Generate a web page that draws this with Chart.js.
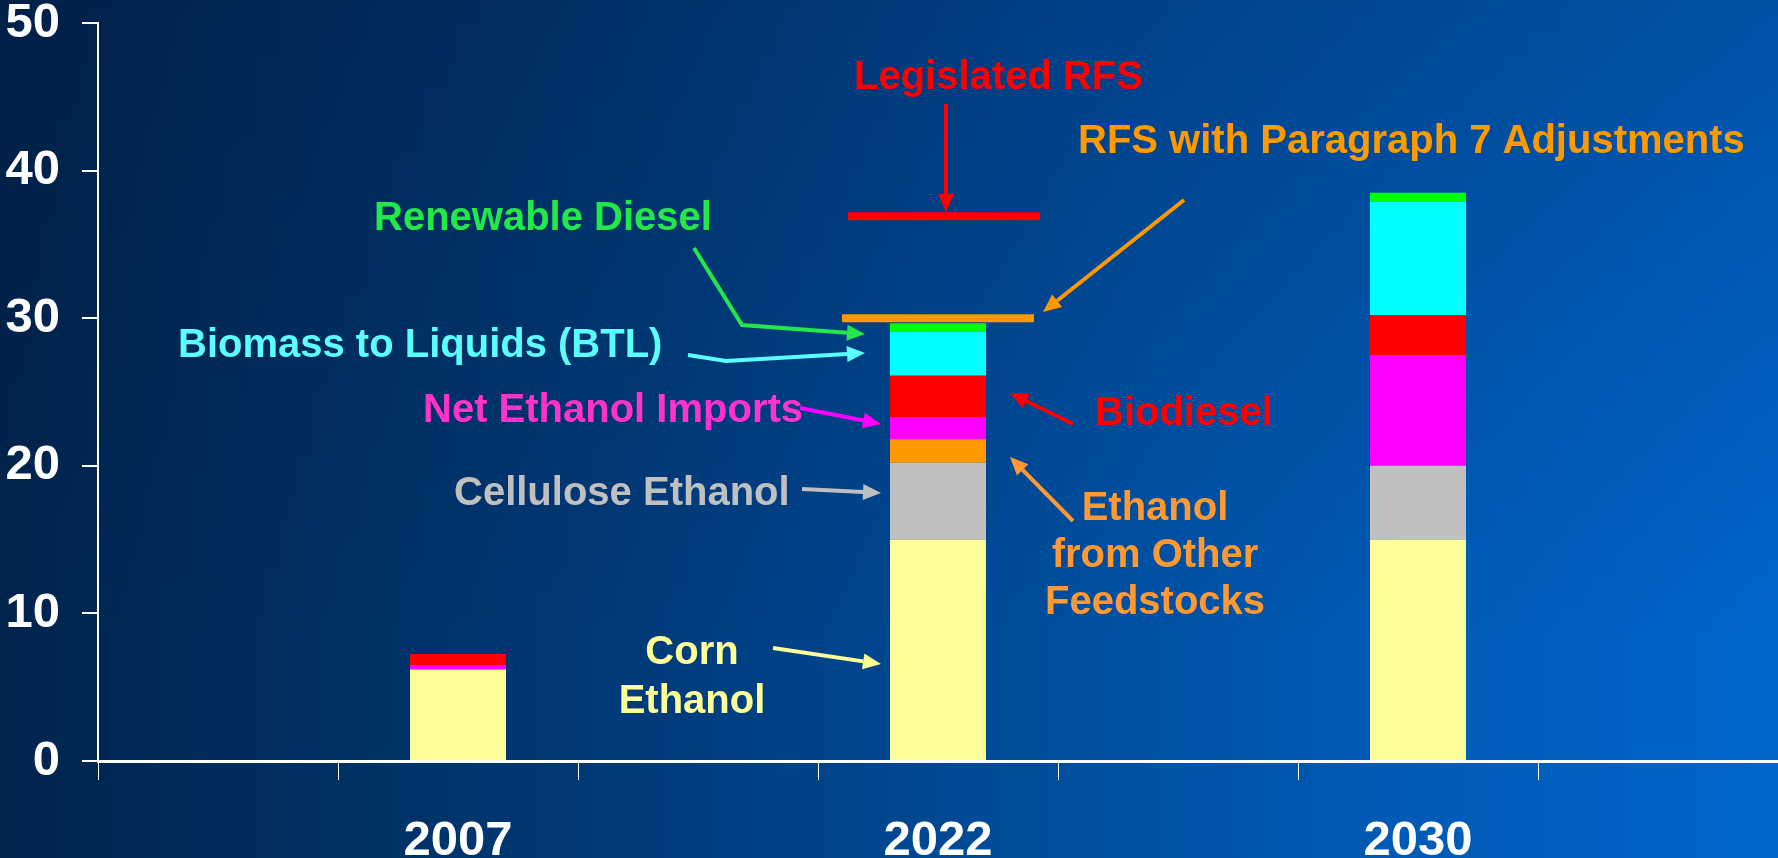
<!DOCTYPE html>
<html>
<head>
<meta charset="utf-8">
<script src="https://cdn.jsdelivr.net/npm/chart.js@4.4.0/dist/chart.umd.min.js"></script>
<style>
  html, body { margin: 0; padding: 0; }
  body {
    width: 1778px; height: 858px; overflow: hidden;
    background:
      linear-gradient(to bottom, rgba(0, 20, 55, 0.25) 0%, rgba(0, 20, 55, 0) 75%),
      linear-gradient(to right, #00244c 0%, #003a78 35%, #0052a6 65%, #0066cc 100%);
  }
  #wrap { position: relative; width: 1778px; height: 858px; }
</style>
</head>
<body>
<div id="wrap"><canvas id="chart"></canvas></div>
<script>
// categories (empty slots keep the bars spaced like the original)
var labels = ['', '2007', '', '2022', '', '2030', ''];

// billion gallons, stacked from the bottom
var cornEthanol      = [null, 6.2,  null, 15,   null, 15,  null];
var celluloseEthanol = [null, 0,    null, 5.2,  null, 5.0, null];
var otherFeedstocks  = [null, 0,    null, 1.6,  null, 0,   null];
var netImports       = [null, 0.3,  null, 1.5,  null, 7.5, null];
var biodiesel        = [null, 0.75, null, 2.8,  null, 2.7, null];
var btl              = [null, 0,    null, 3.0,  null, 7.7, null];
var renewableDiesel  = [null, 0,    null, 0.55, null, 0.6, null];

// RFS targets for 2022
var rfsLegislated = 36.9;
var rfsAdjusted = 30;

var FONT = '"Liberation Sans", Arial, sans-serif';

function arrow(ctx, pts, color) {
  var n = pts.length;
  var tx = pts[n - 1][0], ty = pts[n - 1][1];
  var px = pts[n - 2][0], py = pts[n - 2][1];
  var ang = Math.atan2(ty - py, tx - px);
  var len = 18, w = 8;
  var bx = tx - Math.cos(ang) * len, by = ty - Math.sin(ang) * len;
  ctx.strokeStyle = color;
  ctx.fillStyle = color;
  ctx.lineWidth = 4;
  ctx.lineJoin = 'miter';
  ctx.beginPath();
  ctx.moveTo(pts[0][0], pts[0][1]);
  for (var i = 1; i < n - 1; i++) ctx.lineTo(pts[i][0], pts[i][1]);
  ctx.lineTo(bx, by);
  ctx.stroke();
  ctx.beginPath();
  ctx.moveTo(tx, ty);
  ctx.lineTo(bx + Math.sin(ang) * w, by - Math.cos(ang) * w);
  ctx.lineTo(bx - Math.sin(ang) * w, by + Math.cos(ang) * w);
  ctx.closePath();
  ctx.fill();
}

function text(ctx, s, x, y, color, align) {
  ctx.fillStyle = color;
  ctx.textAlign = align || 'left';
  ctx.fillText(s, x, y);
}

var annotations = {
  id: 'annotations',
  afterDatasetsDraw: function (chart) {
    var ctx = chart.ctx;
    var xs = chart.scales.x, ys = chart.scales.y;
    var i = labels.indexOf('2022');
    var cx = xs.getPixelForValue(i);
    var half = 0.4 * (xs.getPixelForValue(1) - xs.getPixelForValue(0));
    ctx.save();

    // RFS target lines
    ctx.lineWidth = 8;
    ctx.strokeStyle = '#ff0000';
    var yl = ys.getPixelForValue(rfsLegislated);
    ctx.beginPath(); ctx.moveTo(cx - half + 6, yl); ctx.lineTo(cx + half + 6, yl); ctx.stroke();
    ctx.strokeStyle = '#ff9900';
    var ya = ys.getPixelForValue(rfsAdjusted);
    ctx.beginPath(); ctx.moveTo(cx - half, ya); ctx.lineTo(cx + half, ya); ctx.stroke();

    // arrows
    arrow(ctx, [[946, 104], [946, 212]], '#ff0000');
    arrow(ctx, [[1184, 200], [1043, 312]], '#ff9900');
    arrow(ctx, [[694, 248], [742, 325], [865, 334]], '#22e84a');
    arrow(ctx, [[688, 355], [726, 361], [865, 353]], '#5cffff');
    arrow(ctx, [[800, 408], [881, 424]], '#ff00ff');
    arrow(ctx, [[1073, 424], [1010, 393]], '#ff0000');
    arrow(ctx, [[802, 489], [881, 493]], '#c0c0c0');
    arrow(ctx, [[1073, 521], [1010, 457]], '#ff9933');
    arrow(ctx, [[773, 648], [881, 664]], '#ffff99');

    // labels
    ctx.font = 'bold 40px ' + FONT;
    ctx.textBaseline = 'alphabetic';
    text(ctx, 'Legislated RFS', 854, 89, '#ff0000');
    text(ctx, 'RFS with Paragraph 7 Adjustments', 1078, 153, '#ff9900');
    text(ctx, 'Renewable Diesel', 374, 230, '#22e84a');
    text(ctx, 'Biomass to Liquids (BTL)', 178, 357, '#5cffff');
    text(ctx, 'Net Ethanol Imports', 423, 422, '#ff33cc');
    text(ctx, 'Biodiesel', 1095, 425, '#ff0000');
    text(ctx, 'Cellulose Ethanol', 454, 505, '#c0c0c0');
    text(ctx, 'Ethanol', 1155, 520, '#ff9933', 'center');
    text(ctx, 'from Other', 1155, 567, '#ff9933', 'center');
    text(ctx, 'Feedstocks', 1155, 614, '#ff9933', 'center');
    text(ctx, 'Corn', 692, 664, '#ffff99', 'center');
    text(ctx, 'Ethanol', 692, 713, '#ffff99', 'center');
    ctx.restore();
  }
};

function ds(label, data, color) {
  return { label: label, data: data, backgroundColor: color, borderWidth: 0,
           barPercentage: 0.4, categoryPercentage: 1.0 };
}

new Chart(document.getElementById('chart'), {
  type: 'bar',
  data: {
    labels: labels,
    datasets: [
      ds('Corn Ethanol', cornEthanol, '#ffff99'),
      ds('Cellulose Ethanol', celluloseEthanol, '#c0c0c0'),
      ds('Ethanol from Other Feedstocks', otherFeedstocks, '#ff9900'),
      ds('Net Ethanol Imports', netImports, '#ff00ff'),
      ds('Biodiesel', biodiesel, '#ff0000'),
      ds('Biomass to Liquids (BTL)', btl, '#00ffff'),
      ds('Renewable Diesel', renewableDiesel, '#00ff00')
    ]
  },
  options: {
    responsive: true,
    maintainAspectRatio: false,
    animation: false,
    layout: { padding: { top: 23, left: 0, right: 0, bottom: 0 } },
    plugins: { legend: { display: false }, tooltip: { enabled: false } },
    scales: {
      x: {
        stacked: true,
        offset: true,
        grid: { display: true, drawOnChartArea: false, drawTicks: true, tickLength: 19, color: '#ffffff', lineWidth: 1 },
        border: { display: true, color: '#ffffff', width: 3 },
        ticks: { color: '#ffffff', font: { family: FONT, size: 49, weight: 'bold' }, padding: 32, autoSkip: false, maxRotation: 0 },
        afterFit: function (s) { s.height = 97; s.paddingLeft = 0; s.paddingRight = 0; }
      },
      y: {
        stacked: true,
        min: 0, max: 50,
        grid: { display: true, drawOnChartArea: false, drawTicks: true, tickLength: 16, color: '#ffffff', lineWidth: 2 },
        border: { display: true, color: '#ffffff', width: 2 },
        ticks: { stepSize: 10, color: '#ffffff', font: { family: FONT, size: 49, weight: 'bold' }, padding: 22 },
        afterFit: function (s) { s.width = 98; s.paddingTop = 0; s.paddingBottom = 0; }
      }
    }
  },
  plugins: [annotations]
});
</script>
</body>
</html>
